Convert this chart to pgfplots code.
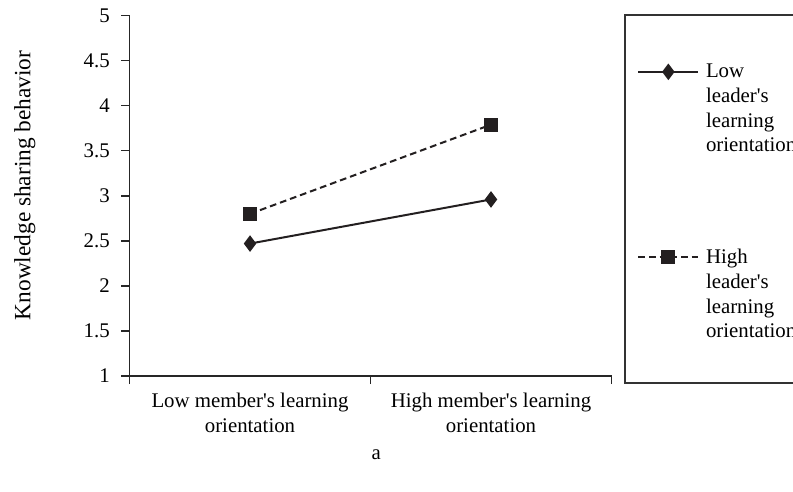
\documentclass[border=0pt]{standalone}
\usepackage{pgfplots}
\pgfplotsset{compat=1.18}
\usepackage{fontspec}
\setmainfont{Liberation Serif}

\definecolor{ink}{HTML}{231F20}
\newcommand{\chartfont}{\fontsize{12.5}{14.8}\selectfont}
\newcommand{\q}{\textquotesingle}

\begin{document}
\begin{tikzpicture}
\useasboundingbox (0,0) rectangle (475.8pt,294.6pt);
% legend frame (runs off the right edge, as in the source)
\draw[black!80, line width=0.7pt] (375pt,64.8pt) rectangle (490pt,285.6pt);
\begin{axis}[
	at={(77.7pt,69pt)}, anchor=south west,
	scale only axis,
	width=289.2pt, height=216.2pt,
	xmin=0, xmax=2, ymin=1, ymax=5,
	axis x line=bottom, axis y line=left,
	axis line style={-, black!85, line width=0.8pt},
	tick align=outside,
	tick style={black!85, line width=0.8pt},
	xtick={0.5,1.5},
	xticklabels={{Low member\q s learning\\orientation},{High member\q s learning\\orientation}},
	major x tick style={draw=none},
	minor xtick={0,1,2},
	minor tick length=4.8pt,
	major tick length=4.8pt,
	ytick={1,1.5,...,5},
	/pgf/number format/fixed,
	/pgf/number format/precision=1,
	/pgf/number format/assume math mode=true,
	tick label style={font=\chartfont},
	x tick label style={align=center, yshift=-2pt},
	y tick label style={xshift=-3.5pt},
	ylabel={Knowledge sharing behavior},
	ylabel style={font=\fontsize{14}{16}\selectfont, at={(axis description cs:-0.217,0.529)}, anchor=center},
	xlabel={a},
	xlabel style={font=\chartfont, at={(axis description cs:0.512,-0.219)}, anchor=center},
	legend cell align=left,
	legend style={at={(axis description cs:1.0529,0.866)}, anchor=north west,
		draw=none, fill=none, inner sep=0pt, row sep=57pt, column sep=4pt,
		nodes={align=left, inner sep=0pt, font=\chartfont}},
	legend image code/.code={
		\path[draw=none] (0pt,-22.5pt) (0pt,22.5pt);
		\draw[mark repeat=2, mark phase=2, #1] plot coordinates {(0pt,22.5pt) (18pt,22.5pt) (36pt,22.5pt)};
	},
	clip=false,
]
\addplot[ink, line width=1.2pt, mark=diamond*, mark size=4pt, mark options={solid, fill=ink}]
	coordinates {(0.5,2.47) (1.5,2.96)};
\addlegendentry{Low\\leader\q s\\learning\\orientation}
\addplot[ink, line width=1.2pt, dash pattern=on 4pt off 2.4pt, mark=square*, mark size=3.6pt, mark options={solid, fill=ink}]
	coordinates {(0.5,2.80) (1.5,3.79)};
\addlegendentry{High\\leader\q s\\learning\\orientation}
\end{axis}
\end{tikzpicture}
\end{document}
